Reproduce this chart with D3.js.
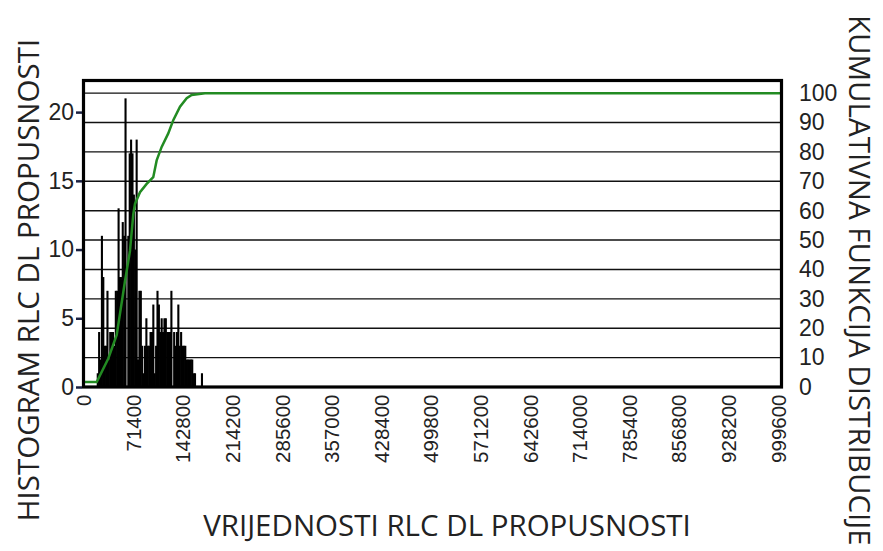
<!DOCTYPE html>
<html>
<head>
<meta charset="utf-8">
<script src="https://cdn.jsdelivr.net/npm/d3@7"></script>
<style>
  html, body { margin: 0; padding: 0; background: #fff; }
  svg { display: block; }
</style>
</head>
<body>
<svg id="chart" width="883" height="551"></svg>
<script>
// ---- data ----
const binStarts = [19000,21000,23000,25000,27000,29000,31000,33000,35000,37000,
  39000,41000,43000,45000,47000,49000,51000,53000,55000,57000,
  59000,61000,63000,65000,67000,69000,71000,73000,75000,77000,
  79000,81000,83000,85000,87000,89000,91000,93000,95000,97000,
  99000,101000,103000,105000,107000,109000,111000,113000,115000,117000,
  119000,121000,123000,125000,127000,129000,131000,133000,135000,137000,
  139000,141000,143000,145000,147000,149000,151000,153000,155000,157000,
  159000,161000,163000,165000,167000,169000];
const binWidth = 2000;
const histCounts = [1,4,2,11,8,3,3,7,2,4,
  4,4,3,7,7,13,8,8,12,11,
  21,0,11,17,18,17,14,10,18,2,
  7,7,3,1,3,5,3,3,4,4,
  6,1,3,7,6,4,5,4,5,5,
  4,4,4,7,0,4,3,4,6,3,
  4,3,3,3,2,2,2,2,2,1,
  1,0,0,0,0,1];
const cdfX = [0,19000,35700,47800,59700,66900,71700,74100,81300,90900,100400,105300,112500,122000,129200,138900,148500,155700,174800,1004600];
const cdfPct = [1.7,1.7,9.7,17.7,36,46.3,58.9,62.3,66.3,69.1,71.4,77.1,81.7,86.3,90.8,95.4,98.3,99.4,100,100];
const xTickValues = [0,71400,142800,214200,285600,357000,428400,499800,571200,642600,714000,785400,856800,928200,999600];
const leftTickValues = [0,5,10,15,20];
const rightTickValues = [0,10,20,30,40,50,60,70,80,90,100];
const xTitle = "VRIJEDNOSTI RLC DL PROPUSNOSTI";
const leftTitle = "HISTOGRAM RLC DL PROPUSNOSTI";
const rightTitle = "KUMULATIVNA FUNKCIJA DISTRIBUCIJE";

// ---- layout ----
const L = 83.5, R = 781.5, T = 80.5, B = 387;
const svg = d3.select("#chart");
const x = d3.scaleLinear().domain([0, 1004600]).range([L, R]);
const yL = d3.scaleLinear().domain([0, 22.3]).range([B, T]);
const yR = d3.scaleLinear().domain([0, 104.3]).range([B, T]);
const numFont = "'Liberation Sans', Arial, sans-serif";
const titleFont = "'Open Sans', 'Noto Sans', sans-serif";

// gridlines (right-axis values)
svg.append("g").selectAll("line")
  .data(rightTickValues.filter(d => d > 0))
  .join("line")
  .attr("x1", L).attr("x2", R)
  .attr("y1", d => yR(d)).attr("y2", d => yR(d))
  .attr("stroke", "#111").attr("stroke-width", 1.4);

// histogram bars
svg.append("g").selectAll("rect")
  .data(binStarts.map((s, i) => ({s, v: histCounts[i]})))
  .join("rect")
  .attr("x", d => x(d.s))
  .attr("width", d => x(d.s + binWidth) - x(d.s) + 0.7)
  .attr("y", d => yL(d.v))
  .attr("height", d => yL(0) - yL(d.v))
  .attr("fill", "#000");

// cumulative line
const line = d3.line().x(d => x(d[0])).y(d => yR(d[1]));
svg.append("path")
  .datum(cdfX.map((v, i) => [v, cdfPct[i]]))
  .attr("d", line)
  .attr("fill", "none")
  .attr("stroke", "#228b22")
  .attr("stroke-width", 2.5);

// frame
svg.append("rect")
  .attr("x", L).attr("y", T).attr("width", R - L).attr("height", B - T)
  .attr("fill", "none").attr("stroke", "#000").attr("stroke-width", 3.2);

// left axis
const gL = svg.append("g").attr("transform", `translate(${L - 1.5},0)`)
  .call(d3.axisLeft(yL).tickValues(leftTickValues).tickSize(6).tickPadding(2));
gL.select(".domain").remove();
gL.selectAll(".tick line").attr("stroke", "#1a2040").attr("stroke-width", 2.5);
gL.selectAll(".tick text").attr("font-family", numFont).attr("font-size", 23).attr("fill", "#222");

// right axis labels
const gR = svg.append("g").attr("transform", `translate(${R + 1.5},0)`)
  .call(d3.axisRight(yR).tickValues(rightTickValues).tickSize(0).tickPadding(16));
gR.select(".domain").remove();
gR.selectAll(".tick text").attr("font-family", numFont).attr("font-size", 23).attr("fill", "#222");

// bottom axis labels (rotated)
const gB = svg.append("g").attr("transform", `translate(0,${B + 1.5})`)
  .call(d3.axisBottom(x).tickValues(xTickValues).tickSize(0).tickFormat(d3.format("d")));
gB.select(".domain").remove();
gB.selectAll(".tick text")
  .attr("font-family", numFont).attr("font-size", 20.5).attr("fill", "#222")
  .attr("transform", "rotate(-90)")
  .attr("text-anchor", "end")
  .attr("x", -6).attr("y", 0).attr("dy", "0.35em");

// titles
svg.append("text")
  .attr("x", 447).attr("y", 536)
  .attr("text-anchor", "middle")
  .attr("font-family", titleFont).attr("font-size", 29.5).attr("fill", "#222")
  .text(xTitle);
svg.append("text")
  .attr("transform", "translate(39,280) rotate(-90)")
  .attr("text-anchor", "middle")
  .attr("font-family", titleFont).attr("font-size", 29.5).attr("fill", "#222")
  .text(leftTitle);
svg.append("text")
  .attr("transform", "translate(849,15) rotate(90)")
  .attr("text-anchor", "start")
  .attr("font-family", titleFont).attr("font-size", 29.5).attr("fill", "#222")
  .text(rightTitle);
</script>
</body>
</html>
